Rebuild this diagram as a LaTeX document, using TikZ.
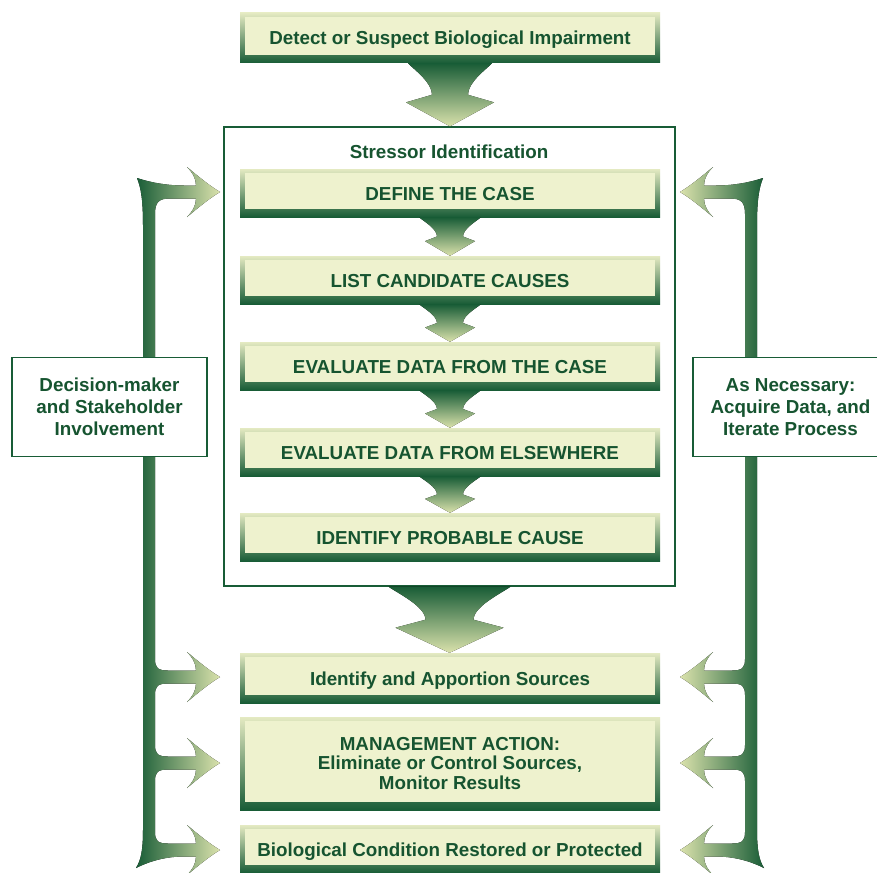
\documentclass[tikz,border=0pt]{standalone}
\usepackage{fontspec}
\setmainfont{Liberation Sans}
\usetikzlibrary{calc}
\definecolor{dkgreen}{RGB}{24,92,54}
\definecolor{txtgreen}{RGB}{22,84,48}
\definecolor{cream}{RGB}{238,242,206}
\definecolor{boxtop}{RGB}{228,234,194}
\definecolor{midgreen}{RGB}{112,156,96}
\definecolor{arrlight}{RGB}{218,226,172}
\newcommand\bxfont{\fontsize{18.8}{19.6}\selectfont\bfseries}
\newcommand\lbfont{\fontsize{18.8}{22}\selectfont\bfseries}
% funnel arrow: #1 start anchor, #2 end anchor, #3 top half width, #4 neck half width, #5 barb half width
\newcommand\funnelarrow[5]{%
  \fill[top color=dkgreen, bottom color=arrlight] let \p1=#1, \p2=#2, \n1={\y2-\y1} in
   (\x1-#3pt,\y1) -- (\x1+#3pt,\y1)
   .. controls ({\x1+0.75*#3pt+0.25*#4pt},{\y1+0.1*(\n1)}) and (\x1+#4pt,{\y1+0.3*(\n1)}) .. (\x1+#4pt,{\y1+0.5*(\n1)})
   -- (\x1+#5pt,{\y1+0.62*(\n1)}) -- (\x1,\y2) -- (\x1-#5pt,{\y1+0.62*(\n1)}) -- (\x1-#4pt,{\y1+0.5*(\n1)})
   .. controls (\x1-#4pt,{\y1+0.3*(\n1)}) and ({\x1-0.75*#3pt-0.25*#4pt},{\y1+0.1*(\n1)}) .. cycle;}
\newcommand\sideshape[1]{%
 \fill[#1]
 (137,178) .. controls (152,183) and (168,185.5) .. (184,185.5)
 -- (196,185.5) .. controls (196,178) and (192,172) .. (187,167)
 .. controls (199,177) and (210,186) .. (220,192)
 .. controls (210,198) and (199,207) .. (187,217)
 .. controls (192,212) and (196,206) .. (196,198.5)
 -- (170,198.5) .. controls (159,198.5) and (155,202) .. (155,214)
 -- (155,659) .. controls (155,668) and (158,670.5) .. (168,670.5)
 -- (196,670.5) .. controls (196,663) and (192,657) .. (187,652)
 .. controls (199,662) and (210,671) .. (220,677)
 .. controls (210,683) and (199,692) .. (187,702)
 .. controls (192,697) and (196,691) .. (196,683.5)
 -- (168,683.5) .. controls (158,683.5) and (155,686) .. (155,695)
 -- (155,745) .. controls (155,754) and (158,756.5) .. (168,756.5)
 -- (196,756.5) .. controls (196,749) and (192,743) .. (187,738)
 .. controls (199,748) and (210,757) .. (220,763)
 .. controls (210,769) and (199,778) .. (187,788)
 .. controls (192,783) and (196,777) .. (196,769.5)
 -- (168,769.5) .. controls (158,769.5) and (155,772) .. (155,781)
 -- (155,832) .. controls (155,841) and (158,843.5) .. (168,843.5)
 -- (196,843.5) .. controls (196,836) and (192,830) .. (187,825)
 .. controls (199,835) and (210,844) .. (220,850)
 .. controls (210,856) and (199,865) .. (187,875)
 .. controls (192,870) and (196,864) .. (196,856.5)
 -- (184,856.5) .. controls (168,856.5) and (152,860) .. (136,868)
 .. controls (141,860) and (143,850) .. (143,830)
 -- (143,225) .. controls (143,200) and (141,188) .. (137,178) -- cycle;}
\begin{document}
\begin{tikzpicture}[x=1pt,y=-1pt,
  stepbase/.style={minimum width=420pt, minimum height=48pt, inner sep=0pt,
    top color=boxtop, bottom color=dkgreen, font=\bxfont, text=txtgreen, align=center,
    path picture={\fill[cream] ([xshift=5pt,yshift=-4pt]path picture bounding box.north west)
      rectangle ([xshift=-5pt,yshift=8pt]path picture bounding box.south east);}},
  stepbox/.style={stepbase, text height=17.5pt, text depth=3.5pt},
  frame/.style={draw=dkgreen, line width=1.3pt, fill=white, minimum width=451pt, minimum height=459pt, inner sep=0pt},
  titletext/.style={font=\bxfont, text=txtgreen, inner sep=0pt},
  sidebox/.style={draw=dkgreen, line width=1.3pt, fill=white, minimum width=195pt, minimum height=99pt,
    inner sep=0pt, font=\lbfont, text=txtgreen, align=center}]
\useasboundingbox (0,0) rectangle (877,872);
\clip (0,0) rectangle (877,872);
\fill[white] (0,0) rectangle (877,872);

% side arrows
\sideshape{left color=dkgreen, middle color=midgreen, right color=arrlight}
\begin{scope}[xshift=900pt, xscale=-1]
\sideshape{left color=arrlight, middle color=midgreen, right color=dkgreen}
\end{scope}

\node[sidebox] (stake) at (109.5,407) {Decision-maker\\and Stakeholder\\Involvement};
\node[sidebox] (iterate) at (790.5,407) {As Necessary:\\Acquire Data, and\\Iterate Process};

\node[frame] (frame) at (449.5,356.5) {};
\node[titletext] (sititle) at (449,152) {Stressor Identification};

\node[stepbox, minimum height=50pt] (detect) at (450,38) {Detect or Suspect Biological Impairment};
\node[stepbox] (define) at (450,193) {DEFINE THE CASE};
\node[stepbox] (list) at (450,280) {LIST CANDIDATE CAUSES};
\node[stepbox] (evalcase) at (450,366) {EVALUATE DATA FROM THE CASE};
\node[stepbox] (evalelse) at (450,452) {EVALUATE DATA FROM ELSEWHERE};
\node[stepbox] (probable) at (450,537) {IDENTIFY PROBABLE CAUSE};
\node[stepbox, minimum height=50pt] (apportion) at (450,678) {Identify and Apportion Sources};
\node[stepbase, minimum height=93pt] (mgmt) at (450,763.5) {MANAGEMENT ACTION:\\Eliminate or Control Sources,\\Monitor Results};
\node[stepbox] (bio) at (450,849) {Biological Condition Restored or Protected};

\funnelarrow{(detect.south)}{(frame.north)}{42}{18}{44}
\funnelarrow{(define.south)}{(list.north)}{31}{13}{25}
\funnelarrow{(list.south)}{(evalcase.north)}{31}{13}{25}
\funnelarrow{(evalcase.south)}{(evalelse.north)}{31}{13}{25}
\funnelarrow{(evalelse.south)}{(probable.north)}{31}{13}{25}
\funnelarrow{(frame.south)}{(apportion.north)}{61}{24}{54}
\end{tikzpicture}
\end{document}
